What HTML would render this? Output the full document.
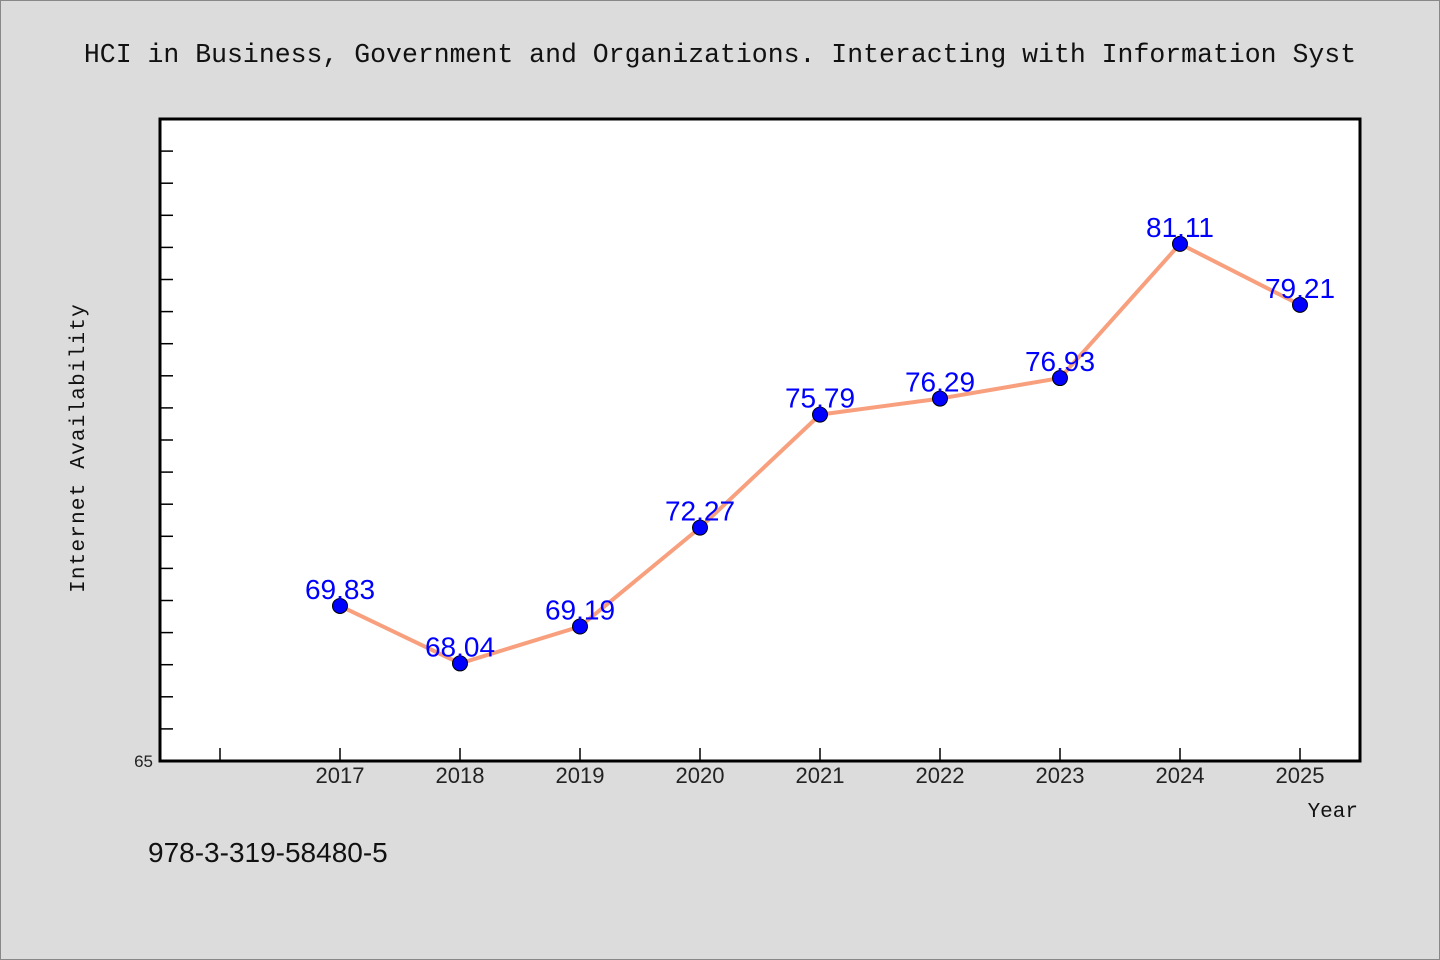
<!DOCTYPE html>
<html><head><meta charset="utf-8"><style>
body{margin:0;background:#dcdcdc;}
svg{display:block;}
</style></head><body>
<svg width="1440" height="960" xmlns="http://www.w3.org/2000/svg">
<rect x="0.5" y="0.5" width="1439" height="959" fill="#dcdcdc" stroke="#888"/>
<text x="720" y="62" text-anchor="middle" font-family="'Liberation Mono',monospace" font-size="26.5" fill="#111">HCI in Business, Government and Organizations. Interacting with Information Syst</text>
<rect x="160" y="119" width="1200" height="642" fill="#fff"/>
<g id="ticks"></g>
<g id="marks"></g>
<rect x="160" y="119" width="1200" height="642" fill="none" stroke="#000" stroke-width="3"/>
<text x="84" y="448" transform="rotate(-90 84 448)" text-anchor="middle" font-family="'Liberation Mono',monospace" font-size="21" letter-spacing="1.2" fill="#111">Internet Availability</text>
<text x="1358" y="817" text-anchor="end" font-family="'Liberation Mono',monospace" font-size="21" fill="#111">Year</text>
<text x="148" y="862" font-family="'WenQuanYi Zen Hei','Liberation Sans',sans-serif" font-size="28" fill="#111">978-3-319-58480-5</text>
</svg>
<script>
const years = [2017,2018,2019,2020,2021,2022,2023,2024,2025];
const values = [69.83,68.04,69.19,72.27,75.79,76.29,76.93,81.11,79.21];
const labels = ["69.83","68.04","69.19","72.27","75.79","76.29","76.93","81.11","79.21"];
const yMin=65, yMax=85, xMin=2015.5, xMax=2025.5;
const NS="http://www.w3.org/2000/svg";
const FONT="'WenQuanYi Zen Hei','Liberation Sans',sans-serif";
function sx(v){return 160+(v-xMin)/(xMax-xMin)*1200;}
function sy(v){return 761-(v-yMin)/(yMax-yMin)*642;}
function mk(tag,attrs,parent){const e=document.createElementNS(NS,tag);for(const k in attrs)e.setAttribute(k,attrs[k]);parent.appendChild(e);return e;}
const tg=document.getElementById('ticks'), mg=document.getElementById('marks');
for(let v=yMin+1;v<=yMax;v++){
  const t=mk('line',{x1:160,x2:173,y1:sy(v),y2:sy(v),stroke:'#000','stroke-width':1.5},tg);
  
  
}
const yl=mk('text',{x:153,y:767,'text-anchor':'end','font-family':FONT,'font-size':17,fill:'#222'},tg);
yl.textContent='65';


for(let yr=2016;yr<=2025;yr++){
  const t=mk('line',{x1:sx(yr),x2:sx(yr),y1:761,y2:748,stroke:'#000','stroke-width':1.5},tg);
  
  
}
years.forEach(yr=>{
  const l=mk('text',{x:sx(yr),y:783,'text-anchor':'middle','font-family':FONT,'font-size':22,fill:'#222'},tg);
  l.textContent=String(yr);
  
  
});
const pts=years.map((y,i)=>sx(y)+','+sy(values[i])).join(' ');
const pl=mk('polyline',{points:pts,fill:'none',stroke:'#f8a07e','stroke-width':4,'stroke-linejoin':'round'},mg);


years.forEach((y,i)=>{
  const c=mk('circle',{cx:sx(y),cy:sy(values[i]),r:7.5,fill:'#0000ff',stroke:'#000','stroke-width':1},mg);
  
  
});
years.forEach((y,i)=>{
  const t=mk('text',{x:sx(y),y:sy(values[i])-7,'text-anchor':'middle','font-family':FONT,'font-size':28,fill:'#0000ff'},mg);
  t.textContent=labels[i];
  
  
});
</script>
</body></html>
